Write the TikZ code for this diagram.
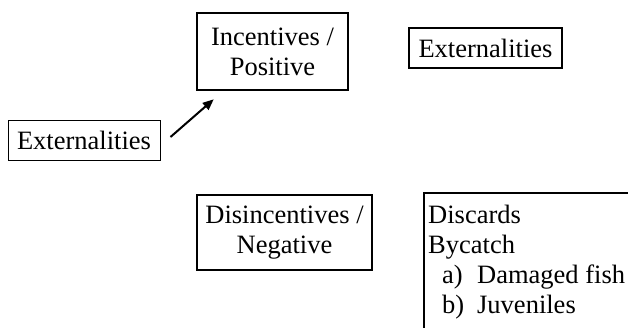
\documentclass[tikz,border=0pt]{standalone}
\usepackage{fontspec}
\setmainfont{Liberation Serif}
\newfontfamily\timesfont{Liberation Serif}
\usetikzlibrary{arrows.meta,calc}
\newcommand{\lbl}[1]{\hspace*{14pt}\makebox[35pt][l]{#1}}
\begin{document}
\begin{tikzpicture}[x=1pt,y=-1pt,
  every node/.style={font=\timesfont\fontsize{26.5}{30}\selectfont, inner sep=0pt},
  thickbox/.style={draw, line width=2.6pt, align=center},
  thinbox/.style={draw, line width=1pt, align=center},
  conn/.style={line width=2pt, -{Triangle[length=11pt,width=9pt]}}]
\useasboundingbox (0,0) rectangle (628,327);
\clip (0,0) rectangle (628,327);
\node[thinbox, minimum width=152pt, minimum height=40pt] (ext1) at (84,140) {Externalities};
\node[thickbox, minimum width=151pt, minimum height=77pt] (inc) at (272.5,51.5) {Incentives /\\Positive};
\node[thickbox, minimum width=153pt, minimum height=40pt] (ext2) at (485.5,48) {Externalities};
\node[thickbox, minimum width=175pt, minimum height=75pt] (dis) at (284.5,232.5) {Disincentives /\\Negative};
\coordinate (dtl) at (424,193);
\draw[line width=2.6pt] (424,340) -- (dtl) -- (640,193);
\node[align=left, anchor=north west] (disc) at ($(dtl)+(4,11.5)$) {Discards\\Bycatch\\\lbl{a)}Damaged fish\\\lbl{b)}Juveniles};
\draw[conn] ($(ext1.east)+(10,-3)$) -- ($(inc.south west)+(18,8)$);
\end{tikzpicture}
\end{document}
